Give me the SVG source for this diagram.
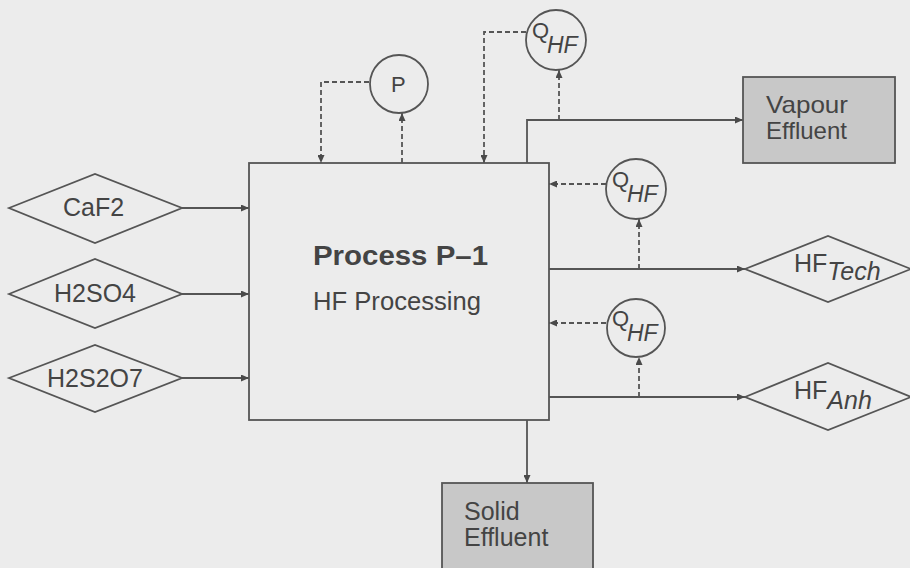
<svg xmlns="http://www.w3.org/2000/svg" width="910" height="568" viewBox="0 0 910 568">
<defs>
<marker id="ah" markerUnits="userSpaceOnUse" markerWidth="8" markerHeight="7" refX="8" refY="3.5" orient="auto">
<path d="M0,0 L8,3.5 L0,7 z" fill="#4a4a4a"/>
</marker>
</defs>
<style>
.ln{fill:none;stroke:#555;stroke-width:1.8}
.ds{fill:none;stroke:#555;stroke-width:1.8;stroke-dasharray:5 3}
.nd{fill:none;stroke:#555;stroke-width:1.8}
.gb{fill:#c8c8c8;stroke:#555;stroke-width:1.8}
.t{font-family:"Liberation Sans",Arial,sans-serif;font-size:25px;fill:#444}
.e{font-family:"Liberation Sans",Arial,sans-serif;font-size:24px;fill:#444}
.ti{font-family:"Liberation Sans",Arial,sans-serif;font-size:25px;fill:#444;font-style:italic}
.q{font-family:"Liberation Sans",Arial,sans-serif;font-size:22px;fill:#444}
.qi{font-family:"Liberation Sans",Arial,sans-serif;font-size:23px;fill:#444;font-style:italic}
</style>
<rect width="910" height="568" fill="#ececec"/>
<g id="connectors">
<line class="ln" x1="182" y1="208" x2="249" y2="208" marker-end="url(#ah)"/>
<line class="ln" x1="182" y1="294" x2="249" y2="294" marker-end="url(#ah)"/>
<line class="ln" x1="182" y1="378" x2="249" y2="378" marker-end="url(#ah)"/>
<polyline class="ln" points="527,163 527,120 743,120" marker-end="url(#ah)"/>
<line class="ln" x1="549" y1="269" x2="745" y2="269" marker-end="url(#ah)"/>
<line class="ln" x1="549" y1="397" x2="745" y2="397" marker-end="url(#ah)"/>
<line class="ln" x1="527" y1="420" x2="527" y2="483" marker-end="url(#ah)"/>
<polyline class="ds" points="369,82 321,82 321,163" marker-end="url(#ah)"/>
<line class="ds" x1="402" y1="163" x2="402" y2="113" marker-end="url(#ah)"/>
<polyline class="ds" points="526,32 484,32 484,163" marker-end="url(#ah)"/>
<line class="ds" x1="559" y1="120" x2="559" y2="70" marker-end="url(#ah)"/>
<line class="ds" x1="606" y1="184" x2="549" y2="184" marker-end="url(#ah)"/>
<line class="ds" x1="639" y1="269" x2="639" y2="219" marker-end="url(#ah)"/>
<line class="ds" x1="606" y1="323" x2="549" y2="323" marker-end="url(#ah)"/>
<line class="ds" x1="639" y1="397" x2="639" y2="357" marker-end="url(#ah)"/>
</g>
<g id="process">
<rect class="nd" x="249" y="163" width="300" height="257"/>
<text x="313" y="265" font-family="Liberation Sans,Arial,sans-serif" font-size="27" font-weight="bold" fill="#444" textLength="175" lengthAdjust="spacingAndGlyphs">Process P–1</text>
<text class="t" x="313" y="310" textLength="168" lengthAdjust="spacingAndGlyphs">HF Processing</text>
</g>
<g id="caf2">
<polygon class="nd" points="9,208 95,174 182,208 95,243"/>
<text class="t" x="63" y="216">CaF2</text>
</g>
<g id="h2so4">
<polygon class="nd" points="9,294 95,259 182,294 95,328"/>
<text class="t" x="54" y="302">H2SO4</text>
</g>
<g id="h2s2o7">
<polygon class="nd" points="9,378 95,345 182,378 95,412"/>
<text class="t" x="47" y="387">H2S2O7</text>
</g>
<g id="p">
<circle class="nd" cx="399" cy="84" r="29"/>
<text class="q" x="391" y="92">P</text>
</g>
<g id="qhf-top">
<circle class="nd" cx="556" cy="40" r="30"/>
<text class="q" x="532" y="38">Q</text>
<text class="qi" x="547" y="53">HF</text>
</g>
<g id="qhf-mid">
<circle class="nd" cx="636" cy="189" r="30"/>
<text class="q" x="612" y="187">Q</text>
<text class="qi" x="627" y="202">HF</text>
</g>
<g id="qhf-low">
<circle class="nd" cx="636" cy="328" r="29"/>
<text class="q" x="612" y="326">Q</text>
<text class="qi" x="627" y="341">HF</text>
</g>
<g id="vapour">
<rect class="gb" x="743" y="77" width="152" height="86"/>
<text class="e" x="766" y="113" textLength="82" lengthAdjust="spacingAndGlyphs">Vapour</text>
<text class="e" x="766" y="139">Effluent</text>
</g>
<g id="solid">
<rect class="gb" x="442" y="483" width="151" height="100"/>
<text class="t" x="464" y="520">Solid</text>
<text class="t" x="464" y="546">Effluent</text>
</g>
<g id="hftech">
<polygon class="nd" points="745,269 828,236 911,269 828,302"/>
<text class="t" x="794" y="272">HF<tspan class="ti" dy="8">Tech</tspan></text>
</g>
<g id="hfanh">
<polygon class="nd" points="745,397 828,363 911,397 828,430"/>
<text class="t" x="794" y="399">HF<tspan class="ti" dy="10">Anh</tspan></text>
</g>
</svg>
